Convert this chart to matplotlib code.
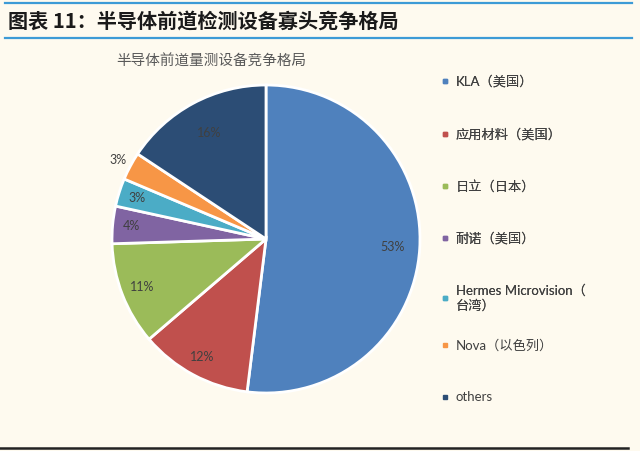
import numpy as np
import matplotlib.pyplot as plt
from matplotlib.lines import Line2D

plt.rcParams['font.family'] = ['Lato', 'Noto Sans CJK SC', 'DejaVu Sans']

# data
companies = ['KLA（美国）', '应用材料（美国）', '日立（日本）', '耐诺（美国）',
             'Hermes Microvision（\n台湾）', 'Nova（以色列）', 'others']
shares = [53, 12, 11, 4, 3, 3, 16]
colors = ['#4F81BD', '#C0504D', '#9BBB59', '#8064A2', '#4BACC6', '#F79646', '#2C4D75']
label_dist = [0.82, 0.87, 0.86, 0.88, 0.88, 1.09, 0.78]

bg = '#FEFAEF'
fig = plt.figure(figsize=(6.4, 4.51), dpi=100, facecolor=bg)

# header
fig.text(8/640, 1-21/451, '图表 11：半导体前道检测设备寡头竞争格局', fontsize=14.5,
         fontweight='bold', color='#1a1a1a', va='center', ha='left',
         family=['Noto Sans CJK SC', 'DejaVu Sans'])
fig.add_artist(Line2D([5/640, 632/640], [1-3/451, 1-3/451], color='#3D9BD6', lw=1.6))
fig.add_artist(Line2D([5/640, 632/640], [1-38/451, 1-38/451], color='#3D9BD6', lw=1.6))
fig.add_artist(Line2D([0, 628/640], [1-448/451, 1-448/451], color='#222222', lw=1.8))

# chart title
fig.text(211/640, 1-62/451, '半导体前道量测设备竞争格局', fontsize=10.5, color='#595959',
         ha='center', va='center', family=['Noto Sans CJK SC', 'DejaVu Sans'])

# pie
cx, cy, half = 266, 239, 160
ax = fig.add_axes([(cx-half)/640, (451-cy-half)/451, 2*half/640, 2*half/451])
ax.set_facecolor(bg)
r = 154/half
wedges, _ = ax.pie(shares, colors=colors, startangle=90, counterclock=False, radius=r,
                   wedgeprops=dict(edgecolor='white', linewidth=2))
ax.set_xlim(-1, 1)
ax.set_ylim(-1, 1)
ax.axis('off')

for w, v, d in zip(wedges, shares, label_dist):
    ang = np.deg2rad((w.theta1 + w.theta2) / 2)
    ax.text(d*r*np.cos(ang), d*r*np.sin(ang), f'{v}%', ha='center', va='center',
            fontsize=9, color='#404040')

# legend (split so the two-line entry doesn't push the rest down)
handles = [Line2D([0], [0], marker='s', linestyle='none', markersize=3.2,
                  markerfacecolor=c, markeredgecolor=c) for c in colors]
leg_kw = dict(loc='upper left', frameon=False, fontsize=9.5, labelcolor='#404040',
              handlelength=0.6, handletextpad=0.5, labelspacing=3.0, borderaxespad=0)
leg1 = fig.legend(handles[:5], companies[:5], bbox_to_anchor=(436/640, 1-70/451), **leg_kw)
fig.add_artist(leg1)
fig.legend(handles[5:], companies[5:], bbox_to_anchor=(436/640, 1-334/451), **leg_kw)

fig.savefig('out.png', dpi=100, facecolor=bg)
